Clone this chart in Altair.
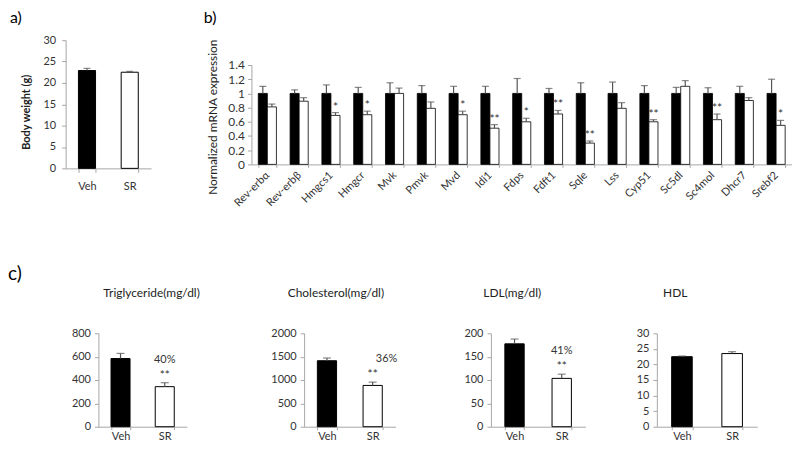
import altair as alt
import pandas as pd

# ---------------- data ----------------
# a) body weight
a_groups = ["Veh", "SR"]
a_values = [22.9, 22.5]
a_upper = [23.4, 22.7]
a_ticks = [0, 5, 10, 15, 20, 25, 30]

# b) hepatic mRNA expression
genes = ["Rev-erbα", "Rev-erbβ", "Hmgcs1", "Hmgcr", "Mvk", "Pmvk", "Mvd", "Idi1",
         "Fdps", "Fdft1", "Sqle", "Lss", "Cyp51", "Sc5dl", "Sc4mol", "Dhcr7", "Srebf2"]
treatments = ["Vehicle", "SR"]
veh_values = [1.0, 1.0, 1.0, 1.0, 1.0, 1.0, 1.0, 1.0, 1.0, 1.0, 1.0, 1.0, 1.0, 1.0, 1.0, 1.0, 1.0]
veh_upper = [1.10, 1.05, 1.12, 1.085, 1.15, 1.11, 1.10, 1.10, 1.21, 1.07, 1.15, 1.16, 1.11, 1.085, 1.08, 1.10, 1.20]
sr_values = [0.81, 0.89, 0.69, 0.70, 1.00, 0.79, 0.70, 0.51, 0.60, 0.71, 0.30, 0.79, 0.60, 1.10, 0.63, 0.90, 0.55]
sr_upper = [0.85, 0.94, 0.73, 0.75, 1.075, 0.88, 0.75, 0.56, 0.65, 0.76, 0.33, 0.87, 0.63, 1.18, 0.71, 0.94, 0.62]
sr_stars = ["", "", "*", "*", "", "", "*", "**", "*", "**", "**", "", "**", "", "**", "", "*"]
b_ticks = [0, 0.2, 0.4, 0.6, 0.8, 1.0, 1.2, 1.4]

# c) plasma lipids
c_groups = ["Veh", "SR"]
tg_values = [584, 343]
tg_upper = [628, 377]
tg_ticks = [0, 200, 400, 600, 800]
chol_values = [1413, 884]
chol_upper = [1471, 955]
chol_ticks = [0, 500, 1000, 1500, 2000]
ldl_values = [177.4, 103.5]
ldl_upper = [187.7, 112.5]
ldl_ticks = [0, 50, 100, 150, 200]
hdl_values = [22.5, 23.5]
hdl_upper = [22.7, 24.1]
hdl_ticks = [0, 5, 10, 15, 20, 25, 30]
c_titles = ["Triglyceride(mg/dl)", "Cholesterol(mg/dl)", "LDL(mg/dl)", "HDL"]
c_percent = ["40%", "36%", "41%", ""]
c_stars = ["**", "**", "**", ""]

# ---------------- style ----------------
FONT = "Lato"
AXIS_C = "#a6a6a6"
LABEL_C = "#333333"
TITLE_C = "#222222"
ERR_C = "#555555"

spacer_df = pd.DataFrame({"s": [0]})


def spacer(w, h, title=None):
    ch = alt.Chart(spacer_df).mark_point(opacity=0, size=0, strokeWidth=0).encode(
        x=alt.value(1), y=alt.value(1)).properties(width=w, height=h)
    if title is not None:
        ch = ch.properties(title=title)
    return ch


def axis_common(**kw):
    d = dict(domainColor=AXIS_C, tickColor=AXIS_C, labelColor=LABEL_C, grid=False,
             labelFont=FONT, titleFont=FONT)
    d.update(kw)
    return alt.Axis(**d)


def two_bar(groups, values, upper, ticks, width, height, pad_inner, cap, xtick, xlab_pad, ylab_pad,
            ytitle=None, ytitle_x=0, ytitle_y=0, star="", pct="", pct_dx=0, title=None):
    df = pd.DataFrame({"group": groups, "value": values, "upper": upper,
                       "star": ["", star], "pct": ["", pct]})
    x = alt.X("group:N", sort=groups,
              scale=alt.Scale(domain=groups, paddingInner=pad_inner, paddingOuter=pad_inner / 2),
              axis=axis_common(title=None, labelAngle=0, labelFontSize=11, labelPadding=xlab_pad,
                               tickBand="extent", tickSize=xtick))
    ykw = dict(values=ticks, tickSize=4, labelPadding=ylab_pad, labelFontSize=11, format="d")
    if ytitle:
        ykw.update(title=ytitle, titleX=ytitle_x, titleY=ytitle_y, titleFontSize=11,
                   titleFontWeight="bold", titleColor=TITLE_C)
    else:
        ykw.update(title=None)
    yaxis = axis_common(**ykw)
    yscale = alt.Scale(domain=[ticks[0], ticks[-1]], nice=False)
    base = alt.Chart(df).encode(x=x)
    bars = base.mark_bar(stroke="black", strokeWidth=1).encode(
        y=alt.Y("value:Q", scale=yscale, axis=yaxis),
        fill=alt.Fill("group:N", scale=alt.Scale(domain=groups, range=["#000000", "#ffffff"]),
                      legend=None))
    err = base.mark_rule(color=ERR_C, strokeWidth=1.2).encode(
        y=alt.Y("value:Q", scale=yscale, axis=yaxis), y2="upper:Q")
    caps = base.mark_tick(color=ERR_C, thickness=1.2, size=cap).encode(
        y=alt.Y("upper:Q", scale=yscale, axis=yaxis))
    stars = base.transform_filter("datum.star != ''").mark_text(
        fontSize=12, baseline="alphabetic", dy=-4, color=LABEL_C, font=FONT).encode(
        y=alt.Y("upper:Q", scale=yscale, axis=yaxis), text="star:N")
    pcts = base.transform_filter("datum.pct != ''").mark_text(
        fontSize=11, baseline="alphabetic", dy=-20, dx=pct_dx, color=LABEL_C, font=FONT).encode(
        y=alt.Y("upper:Q", scale=yscale, axis=yaxis), text="pct:N")
    layer = alt.layer(bars, err, caps, stars, pcts).properties(width=width, height=height)
    if title is not None:
        layer = layer.properties(title=title)
    return layer


# ---------------- panel a ----------------
panel_a = two_bar(a_groups, a_values, a_upper, a_ticks, 86, 129, 0.6, 7, 4, 8, 6,
                  ytitle="Body weight (g)", ytitle_x=-34, ytitle_y=72,
                  title=alt.TitleParams("a)", anchor="start", frame="group", dx=-56, offset=8,
                                        fontSize=16, fontWeight="normal", color="black", font=FONT))

# ---------------- panel b ----------------
dfb = pd.DataFrame({
    "gene": genes + genes,
    "treatment": [treatments[0]] * len(genes) + [treatments[1]] * len(genes),
    "value": veh_values + sr_values,
    "upper": veh_upper + sr_upper,
    "star": [""] * len(genes) + sr_stars,
})
bx = alt.X("gene:N", sort=genes,
           scale=alt.Scale(domain=genes, paddingInner=0.43, paddingOuter=0.215),
           axis=axis_common(title=None, labelAngle=-45, labelAlign="right", labelBaseline="middle",
                            labelFontSize=11, labelPadding=6, tickBand="extent", tickSize=3,
                            offset=-4, labelOverlap=False))
bxo = alt.XOffset("treatment:N", sort=treatments,
                  scale=alt.Scale(domain=treatments, paddingInner=0, paddingOuter=0))
byscale = alt.Scale(domain=[0, 1.4], range=[125, 25], nice=False)
byaxis = axis_common(values=b_ticks, format=".1~f", tickSize=4, labelPadding=3, labelFontSize=12,
                     title="Normalized mRNA expression", titleX=-32, titleY=77, titleFontSize=12,
                     titleFontWeight="normal", titleColor=TITLE_C)
b_legend = alt.Legend(title=None, orient="none", legendX=232, legendY=18, direction="horizontal",
                      symbolType="square", symbolSize=64, symbolStrokeColor="black",
                      symbolStrokeWidth=1, labelFontSize=11, labelFont=FONT, labelColor=TITLE_C,
                      labelOffset=2, columnPadding=22, padding=0)
bbase = alt.Chart(dfb).encode(x=bx, xOffset=bxo)
b_bars = bbase.mark_bar(stroke="black", strokeWidth=0.8).encode(
    y=alt.Y("value:Q", scale=byscale, axis=byaxis),
    fill=alt.Fill("treatment:N", scale=alt.Scale(domain=treatments, range=["#000000", "#ffffff"]),
                  legend=b_legend))
b_err = bbase.mark_rule(color=ERR_C, strokeWidth=1.2).encode(
    y=alt.Y("value:Q", scale=byscale, axis=byaxis), y2="upper:Q")
b_caps = bbase.mark_tick(color=ERR_C, thickness=1.2, size=7).encode(
    y=alt.Y("upper:Q", scale=byscale, axis=byaxis))
b_stars = bbase.transform_filter("datum.star != ''").mark_text(
    fontSize=12, baseline="alphabetic", dy=-2, color=LABEL_C, font=FONT).encode(
    y=alt.Y("upper:Q", scale=byscale, axis=byaxis), text="star:N")
panel_b = alt.layer(b_bars, b_err, b_caps, b_stars).properties(
    width=544, height=129,
    title=alt.TitleParams("b)", anchor="start", frame="group", dx=-48, offset=13,
                          fontSize=16, fontWeight="normal", color="black", font=FONT))


# ---------------- panel c ----------------
C_H = 94


def c_title(text, dx):
    return alt.TitleParams(text, anchor="middle", frame="group", dx=dx, offset=28,
                           fontSize=12, fontWeight="normal", color=TITLE_C, font=FONT)


tg = two_bar(c_groups, tg_values, tg_upper, tg_ticks, 89, C_H, 0.57, 8, 3, 1, 4,
             star=c_stars[0], pct=c_percent[0], title=c_title(c_titles[0], 9))
chol = two_bar(c_groups, chol_values, chol_upper, chol_ticks, 92, C_H, 0.58, 8, 3, 1, 4,
               star=c_stars[1], pct=c_percent[1], pct_dx=14, title=c_title(c_titles[1], -14))
ldl = two_bar(c_groups, ldl_values, ldl_upper, ldl_ticks, 95, C_H, 0.59, 8, 3, 1, 4,
              star=c_stars[2], pct=c_percent[2], title=c_title(c_titles[2], -26))
hdl = two_bar(c_groups, hdl_values, hdl_upper, hdl_ticks, 101, C_H, 0.59, 8, 3, 1, 4,
              star=c_stars[3], pct=c_percent[3], title=c_title(c_titles[3], -32))

c_label = alt.TitleParams("c)", anchor="start", frame="group", dx=0, offset=50,
                          fontSize=19, fontWeight="normal", color="black", font=FONT)

# ---------------- layout ----------------
row1 = alt.hconcat(spacer(58, 189), panel_a, spacer(101, 129), panel_b,
                   spacing=0, bounds="flush")
row2 = alt.hconcat(spacer(91, C_H, title=c_label), tg, spacer(118, C_H), chol,
                   spacer(96, C_H), ldl, spacer(72, C_H), hdl,
                   spacing=0, bounds="flush")

chart = alt.vconcat(row1, row2, spacing=37).properties(padding=0).configure(
    font=FONT).configure_view(stroke=None)

chart.save("out.html", embed_options={"renderer": "svg", "actions": False})
